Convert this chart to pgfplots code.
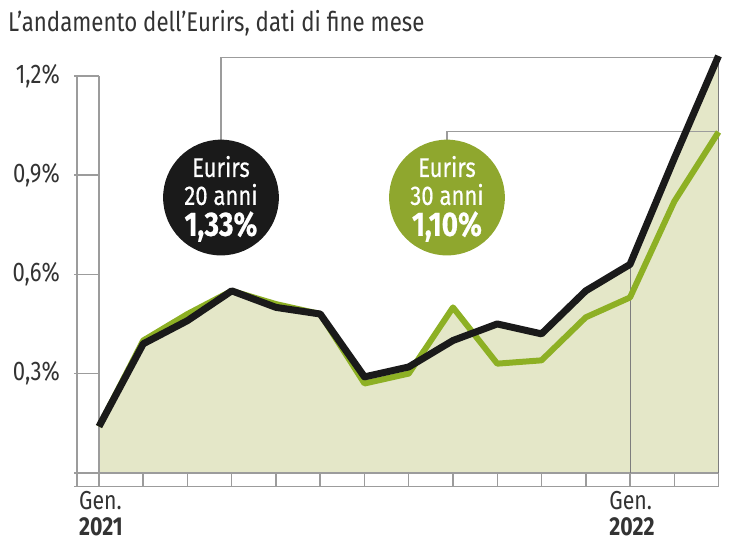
\documentclass[border=0pt]{standalone}
\usepackage{fontspec}
\setmainfont{Fira Sans}[FakeStretch=0.82]
\usepackage{pgfplots}
\pgfplotsset{compat=1.18}
\definecolor{nero}{HTML}{1A1A1A}
\definecolor{verde}{HTML}{8DB024}
\definecolor{verdec}{HTML}{8FA72E}
\definecolor{riemp}{HTML}{E4E7C8}
\definecolor{grig}{HTML}{9C9C9C}
\definecolor{testo}{HTML}{333333}

% mesi 0 = gen 2021 ... 14 = mar 2022
\pgfplotstableread{
m  venti trenta
0  0.14  0.14
1  0.39  0.40
2  0.46  0.48
3  0.55  0.55
4  0.50  0.51
5  0.48  0.48
6  0.29  0.27
7  0.32  0.30
8  0.40  0.50
9  0.45  0.33
10 0.42  0.34
11 0.55  0.47
12 0.63  0.53
13 0.95  0.82
14 1.26  1.03
}\dati

\begin{document}
\begin{tikzpicture}
\begin{axis}[
  scale only axis, width=321.5pt, height=222.5pt,
  xmin=-0.5, xmax=14, ymin=-0.042, ymax=1.3,
  clip=false, axis line style={draw=none}, tick style={draw=none},
  ytick={0.3,0.6,0.9,1.2},
  yticklabels={{0,3\%},{0,6\%},{0,9\%},{1,2\%}},
  xtick={0,12},
  xticklabels={{Gen.\\[-1pt]\textbf{2021}},{Gen.\\[-1pt]\textbf{2022}}},
  xticklabel style={align=left, font=\fontsize{13}{14}\selectfont, text=testo, yshift=1pt, xshift=1pt},
  yticklabel style={font=\fontsize{13.5}{14}\selectfont, text=testo, xshift=-5pt},
  /pgf/number format/assume math mode=true,
]
% area
\addplot[fill=riemp, draw=none] table[x=m, y=venti] {\dati} \closedcycle;
\addplot[fill=riemp, draw=none] table[x=m, y=trenta] {\dati} \closedcycle;

% cornice
\draw[grig, line width=0.75pt] (axis cs:-0.56,-0.042) -- (axis cs:14,-0.042);
\draw[grig, line width=0.75pt] (axis cs:-0.56,0) -- (axis cs:14,0);
\draw[grig, line width=0.75pt] (axis cs:-0.5,-0.042) -- (axis cs:-0.5,1.2);
\draw[grig, line width=0.75pt] (axis cs:0,-0.042) -- (axis cs:0,1.2);
\pgfplotsinvokeforeach{0.3,0.6,0.9,1.2}{
  \draw[grig, line width=0.75pt] (axis cs:-0.56,#1) -- (axis cs:0,#1);
}
\pgfplotsinvokeforeach{1,...,14}{
  \draw[grig, line width=0.75pt] (axis cs:#1,-0.042) -- (axis cs:#1,0);
}
\draw[grig!80!black, line width=0.5pt] (axis cs:12,0) -- (axis cs:12,0.63);
\draw[grig!80!black, line width=0.5pt] (axis cs:14,0) -- (axis cs:14,1.26);

% richiami
\draw[grig, line width=0.75pt] (axis cs:2.757,0.95) -- (axis cs:2.757,1.255) -- (axis cs:14,1.255);
\draw[grig, line width=0.75pt] (axis cs:7.864,0.95) -- (axis cs:7.864,1.031) -- (axis cs:14,1.031);

% linee
\addplot[verde, line width=3pt, line join=round] table[x=m, y=trenta] {\dati};
\addplot[nero, line width=3.5pt, line join=round] table[x=m, y=venti] {\dati};

% cerchi
\fill[nero] (axis cs:2.757,0.832) circle[radius=29pt];
\fill[verdec] (axis cs:7.864,0.832) circle[radius=29pt];
\node[white, align=center, font=\fontsize{13.5}{14}\selectfont\addfontfeature{FakeBold=0.6}] at (axis cs:2.757,0.828)
  {Eurirs\\20 anni\\[1.5pt]{\fontsize{17}{17}\selectfont\bfseries 1,33\%}};
\node[white, align=center, font=\fontsize{13.5}{14}\selectfont\addfontfeature{FakeBold=0.6}] at (axis cs:7.864,0.828)
  {Eurirs\\30 anni\\[1.5pt]{\fontsize{17}{17}\selectfont\bfseries 1,10\%}};

% titolo
\node[anchor=west, text=testo, font=\fontsize{13.6}{15}\selectfont, inner sep=0pt] at (axis cs:-2.06,1.36)
  {L’andamento dell’Eurirs, dati di fine mese};

% bordo immagine
\path (axis cs:-2.237,-0.247) rectangle (axis cs:14.486,1.429);
\end{axis}
\end{tikzpicture}
\end{document}
